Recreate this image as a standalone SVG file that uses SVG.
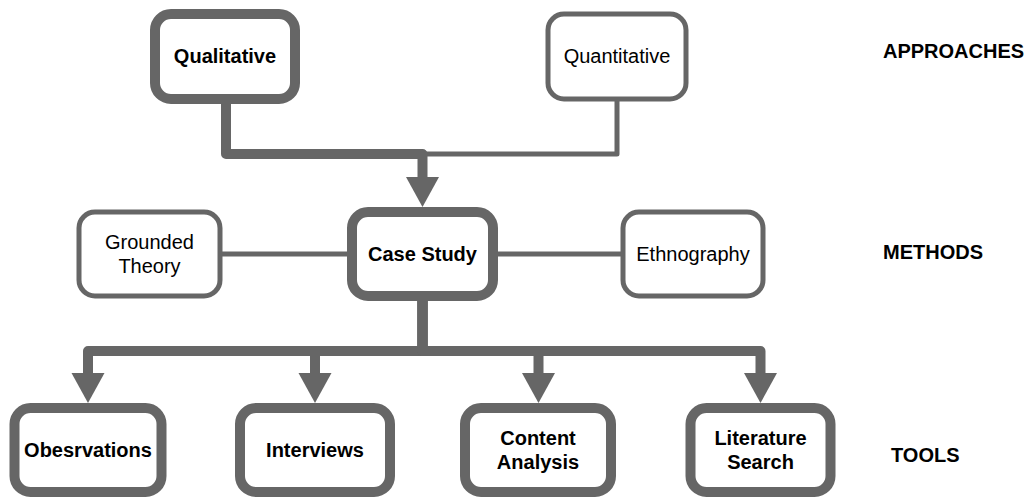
<svg xmlns="http://www.w3.org/2000/svg" width="1034" height="498" viewBox="0 0 1034 498">
  <style>
    .box { fill: #ffffff; stroke: #666666; }
    .thick { stroke-width: 10; }
    .thin { stroke-width: 5; }
    .edge { fill: none; stroke: #666666; stroke-linejoin: round; }
    .lbl { font-family: "Liberation Sans", Arial, sans-serif; font-size: 20px; fill: #000000; text-anchor: middle; }
    .b { font-weight: bold; }
    .tier { font-family: "Liberation Sans", Arial, sans-serif; font-size: 20px; font-weight: bold; fill: #000000; }
  </style>
  <defs>
    <marker id="arrow" markerUnits="userSpaceOnUse" markerWidth="30" markerHeight="34" viewBox="0 -17 30 34" refX="0" refY="0" orient="auto">
      <path d="M0,-16.5 L30,0 L0,16.5 Z" fill="#666666"/>
    </marker>
  </defs>

  <rect width="1034" height="498" fill="#ffffff"/>

  <!-- connectors -->
  <g id="connectors">
    <path class="edge thin" d="M617,101 V154 H422.5"/>
    <path class="edge thick" d="M226,104 V154 H422.5 V177" marker-end="url(#arrow)"/>
    <path class="edge thin" d="M222,254 H347"/>
    <path class="edge thin" d="M498,254 H621"/>
    <path class="edge thick" d="M422.5,301 V351 H88 V373" marker-end="url(#arrow)"/>
    <path class="edge thick" d="M422.5,301 V351 H315 V373" marker-end="url(#arrow)"/>
    <path class="edge thick" d="M422.5,301 V351 H538.5 V373" marker-end="url(#arrow)"/>
    <path class="edge thick" d="M422.5,301 V351 H760.5 V373" marker-end="url(#arrow)"/>
  </g>

  <!-- approaches -->
  <g id="qualitative">
    <rect class="box thick" x="155" y="14" width="140" height="85" rx="16"/>
    <text class="lbl b" x="225" y="63">Qualitative</text>
  </g>
  <g id="quantitative">
    <rect class="box thin" x="548" y="14" width="138" height="85" rx="16"/>
    <text class="lbl" x="617" y="63">Quantitative</text>
  </g>

  <!-- methods -->
  <g id="grounded-theory">
    <rect class="box thin" x="79" y="212" width="141" height="84" rx="16"/>
    <text class="lbl" x="149.5" y="249">Grounded</text>
    <text class="lbl" x="149.5" y="273">Theory</text>
  </g>
  <g id="case-study">
    <rect class="box thick" x="352" y="212" width="141" height="84" rx="16"/>
    <text class="lbl b" x="422.5" y="261">Case Study</text>
  </g>
  <g id="ethnography">
    <rect class="box thin" x="623" y="212" width="140" height="84" rx="16"/>
    <text class="lbl" x="693" y="261">Ethnography</text>
  </g>

  <!-- tools -->
  <g id="observations">
    <rect class="box thick" x="14.5" y="408" width="147" height="84" rx="16"/>
    <text class="lbl b" x="88" y="457">Obesrvations</text>
  </g>
  <g id="interviews">
    <rect class="box thick" x="240" y="408" width="150" height="84" rx="16"/>
    <text class="lbl b" x="315" y="457">Interviews</text>
  </g>
  <g id="content-analysis">
    <rect class="box thick" x="465" y="408" width="146" height="84" rx="16"/>
    <text class="lbl b" x="538" y="445">Content</text>
    <text class="lbl b" x="538" y="469">Analysis</text>
  </g>
  <g id="literature-search">
    <rect class="box thick" x="690.5" y="408" width="140" height="84" rx="16"/>
    <text class="lbl b" x="760.5" y="445">Literature</text>
    <text class="lbl b" x="760.5" y="469">Search</text>
  </g>

  <!-- tier labels -->
  <g id="tier-labels">
    <text class="tier" x="883" y="58">APPROACHES</text>
    <text class="tier" x="883" y="259">METHODS</text>
    <text class="tier" x="891" y="462">TOOLS</text>
  </g>
</svg>
